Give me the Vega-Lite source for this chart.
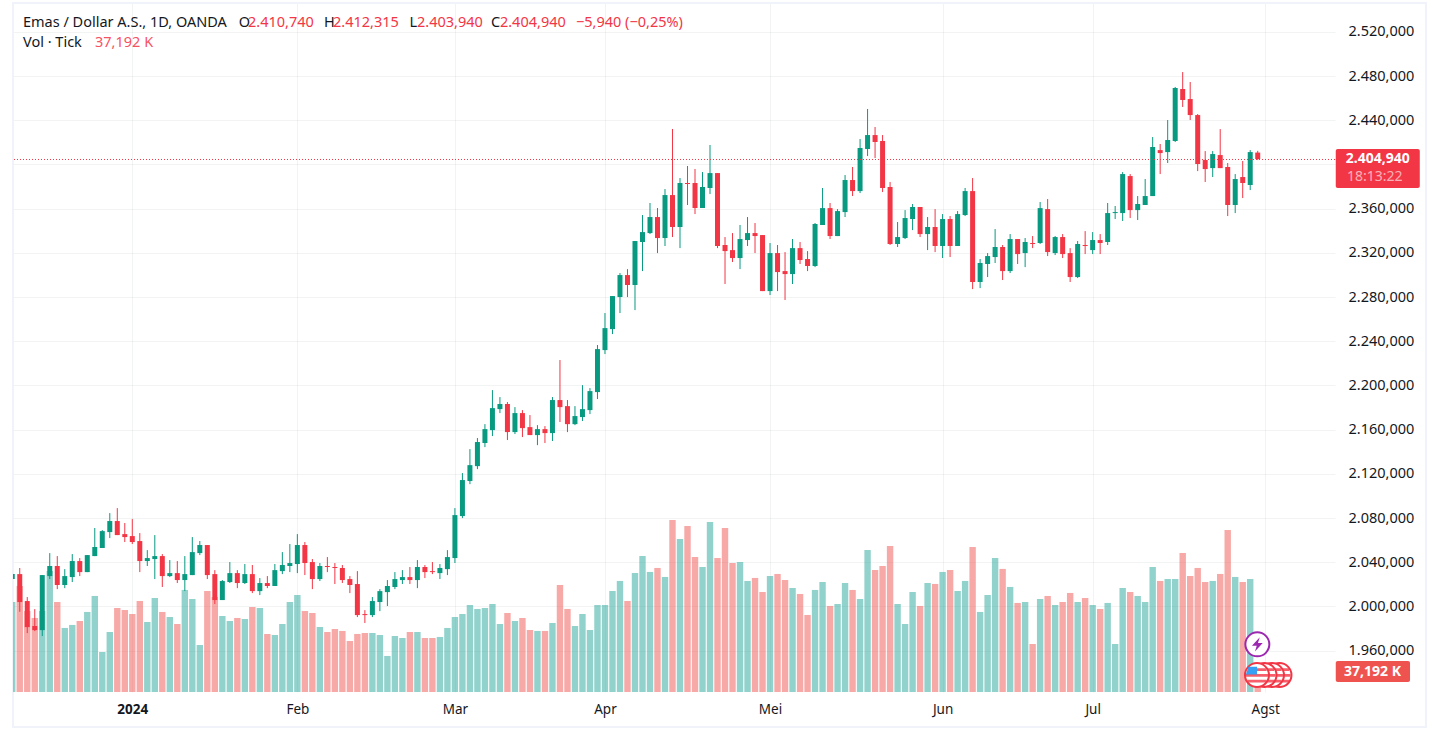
{
"$schema":"https://vega.github.io/schema/vega-lite/v6.json",
"width":1322,"height":689,"autosize":{"type":"none"},"padding":{"left":13,"top":3,"right":99,"bottom":41},"background":"#ffffff",
"config":{"view":{"stroke":null},"font":"Noto Sans"},
"datasets":{"bars":[
{"i":0,"open":2024.8,"high":2029.3,"low":2024.8,"close":2029.3,"volume":164.9},
{"i":1,"open":2029.3,"high":2034.8,"low":1995.2,"close":2004.0,"volume":194.2},
{"i":2,"open":2004.9,"high":2008.5,"low":1975.9,"close":1981.3,"volume":148.4},
{"i":3,"open":1982.3,"high":1997.6,"low":1977.7,"close":1978.6,"volume":135.6},
{"i":4,"open":1978.6,"high":2028.4,"low":1973.2,"close":2028.4,"volume":148.4},
{"i":5,"open":2027.5,"high":2048.3,"low":2024.8,"close":2036.6,"volume":221.7},
{"i":6,"open":2036.6,"high":2045.6,"low":2015.7,"close":2019.4,"volume":164.9},
{"i":7,"open":2019.4,"high":2033.8,"low":2016.6,"close":2027.5,"volume":117.3},
{"i":8,"open":2026.6,"high":2047.4,"low":2022.1,"close":2041.1,"volume":122.8},
{"i":9,"open":2041.1,"high":2043.8,"low":2027.5,"close":2031.1,"volume":130.1},
{"i":10,"open":2031.1,"high":2046.5,"low":2031.1,"close":2046.5,"volume":146.6},
{"i":11,"open":2045.6,"high":2071.0,"low":2045.6,"close":2053.8,"volume":175.9},
{"i":12,"open":2052.9,"high":2069.1,"low":2052.9,"close":2068.2,"volume":73.3},
{"i":13,"open":2067.3,"high":2084.5,"low":2061.9,"close":2077.3,"volume":109.9},
{"i":14,"open":2077.3,"high":2089.0,"low":2064.6,"close":2064.6,"volume":153.9},
{"i":15,"open":2065.5,"high":2075.5,"low":2058.3,"close":2062.8,"volume":150.2},
{"i":16,"open":2063.7,"high":2079.1,"low":2056.5,"close":2058.3,"volume":142.9},
{"i":17,"open":2059.2,"high":2066.4,"low":2031.1,"close":2041.1,"volume":166.7},
{"i":18,"open":2041.1,"high":2051.0,"low":2036.6,"close":2043.8,"volume":128.2},
{"i":19,"open":2042.9,"high":2064.6,"low":2024.8,"close":2045.6,"volume":172.2},
{"i":20,"open":2045.6,"high":2047.4,"low":2017.6,"close":2027.5,"volume":146.6},
{"i":21,"open":2027.5,"high":2042.0,"low":2026.6,"close":2030.2,"volume":137.4},
{"i":22,"open":2030.2,"high":2041.1,"low":2021.2,"close":2023.9,"volume":124.6},
{"i":23,"open":2023.9,"high":2045.6,"low":2013.9,"close":2029.3,"volume":186.9},
{"i":24,"open":2028.4,"high":2062.8,"low":2028.4,"close":2049.2,"volume":170.4},
{"i":25,"open":2048.3,"high":2059.2,"low":2046.5,"close":2055.6,"volume":86.1},
{"i":26,"open":2055.6,"high":2055.6,"low":2024.8,"close":2028.4,"volume":185.0},
{"i":27,"open":2029.3,"high":2032.9,"low":2002.2,"close":2005.8,"volume":174.0},
{"i":28,"open":2005.8,"high":2023.9,"low":2005.8,"close":2023.0,"volume":139.2},
{"i":29,"open":2022.1,"high":2040.2,"low":2021.2,"close":2030.2,"volume":130.1},
{"i":30,"open":2030.2,"high":2032.9,"low":2016.6,"close":2021.2,"volume":135.6},
{"i":31,"open":2021.2,"high":2038.4,"low":2020.3,"close":2029.3,"volume":133.7},
{"i":32,"open":2029.3,"high":2037.5,"low":2012.1,"close":2013.9,"volume":155.7},
{"i":33,"open":2013.9,"high":2025.7,"low":2010.3,"close":2021.2,"volume":153.9},
{"i":34,"open":2021.2,"high":2027.5,"low":2016.6,"close":2018.5,"volume":106.3},
{"i":35,"open":2018.5,"high":2038.4,"low":2018.5,"close":2032.9,"volume":104.4},
{"i":36,"open":2032.0,"high":2049.2,"low":2029.3,"close":2037.5,"volume":124.6},
{"i":37,"open":2036.6,"high":2056.5,"low":2031.1,"close":2039.3,"volume":164.9},
{"i":38,"open":2038.4,"high":2065.5,"low":2030.2,"close":2055.6,"volume":177.7},
{"i":39,"open":2055.6,"high":2058.3,"low":2028.4,"close":2039.3,"volume":148.4},
{"i":40,"open":2040.2,"high":2042.9,"low":2015.7,"close":2024.8,"volume":144.7},
{"i":41,"open":2024.8,"high":2039.3,"low":2023.0,"close":2036.6,"volume":119.1},
{"i":42,"open":2036.6,"high":2044.7,"low":2031.1,"close":2035.7,"volume":109.9},
{"i":43,"open":2035.7,"high":2039.3,"low":2020.3,"close":2034.8,"volume":115.4},
{"i":44,"open":2034.8,"high":2037.5,"low":2021.2,"close":2023.9,"volume":111.8},
{"i":45,"open":2024.8,"high":2027.5,"low":2012.1,"close":2019.4,"volume":93.4},
{"i":46,"open":2020.3,"high":2032.0,"low":1990.4,"close":1992.2,"volume":106.3},
{"i":47,"open":1993.1,"high":1996.7,"low":1985.0,"close":1992.2,"volume":108.1},
{"i":48,"open":1992.2,"high":2008.5,"low":1990.4,"close":2004.9,"volume":108.1},
{"i":49,"open":2004.0,"high":2015.7,"low":1995.8,"close":2013.9,"volume":104.4},
{"i":50,"open":2013.0,"high":2023.9,"low":2000.4,"close":2018.5,"volume":66.0},
{"i":51,"open":2017.6,"high":2031.1,"low":2015.7,"close":2024.8,"volume":102.6},
{"i":52,"open":2023.9,"high":2032.9,"low":2020.3,"close":2026.6,"volume":98.9},
{"i":53,"open":2026.6,"high":2035.7,"low":2020.3,"close":2023.9,"volume":109.9},
{"i":54,"open":2023.9,"high":2042.0,"low":2016.6,"close":2035.7,"volume":109.9},
{"i":55,"open":2035.7,"high":2037.5,"low":2025.7,"close":2031.1,"volume":98.9},
{"i":56,"open":2032.0,"high":2040.2,"low":2029.3,"close":2031.1,"volume":98.9},
{"i":57,"open":2030.2,"high":2038.4,"low":2024.8,"close":2034.8,"volume":100.8},
{"i":58,"open":2033.8,"high":2051.0,"low":2028.4,"close":2044.7,"volume":117.3},
{"i":59,"open":2043.8,"high":2089.0,"low":2039.3,"close":2082.7,"volume":137.4},
{"i":60,"open":2081.8,"high":2120.7,"low":2080.0,"close":2114.4,"volume":142.9},
{"i":61,"open":2113.5,"high":2142.4,"low":2110.7,"close":2127.9,"volume":159.4},
{"i":62,"open":2127.0,"high":2152.4,"low":2124.3,"close":2148.8,"volume":152.1},
{"i":63,"open":2147.9,"high":2165.0,"low":2144.2,"close":2160.5,"volume":153.9},
{"i":64,"open":2159.6,"high":2195.8,"low":2154.2,"close":2179.5,"volume":161.2},
{"i":65,"open":2178.6,"high":2189.5,"low":2175.0,"close":2183.2,"volume":124.6},
{"i":66,"open":2183.2,"high":2185.0,"low":2150.6,"close":2157.8,"volume":144.7},
{"i":67,"open":2157.8,"high":2180.4,"low":2156.0,"close":2175.0,"volume":130.1},
{"i":68,"open":2175.0,"high":2177.7,"low":2153.3,"close":2161.4,"volume":135.6},
{"i":69,"open":2162.3,"high":2173.2,"low":2155.1,"close":2155.1,"volume":113.6},
{"i":70,"open":2155.1,"high":2164.1,"low":2146.0,"close":2160.5,"volume":111.8},
{"i":71,"open":2160.5,"high":2163.2,"low":2147.9,"close":2156.9,"volume":111.8},
{"i":72,"open":2156.9,"high":2189.5,"low":2149.7,"close":2186.8,"volume":126.4},
{"i":73,"open":2186.8,"high":2223.0,"low":2166.9,"close":2180.4,"volume":196.0},
{"i":74,"open":2181.3,"high":2186.8,"low":2157.8,"close":2165.0,"volume":152.1},
{"i":75,"open":2165.0,"high":2181.3,"low":2164.1,"close":2172.3,"volume":120.9},
{"i":76,"open":2171.4,"high":2200.3,"low":2167.8,"close":2178.6,"volume":142.9},
{"i":77,"open":2177.7,"high":2197.6,"low":2174.1,"close":2194.9,"volume":113.6},
{"i":78,"open":2194.0,"high":2236.6,"low":2187.7,"close":2232.9,"volume":159.4},
{"i":79,"open":2232.0,"high":2265.5,"low":2228.4,"close":2251.9,"volume":159.4},
{"i":80,"open":2251.0,"high":2280.9,"low":2246.5,"close":2280.9,"volume":185.0},
{"i":81,"open":2280.0,"high":2301.7,"low":2265.5,"close":2299.9,"volume":203.4},
{"i":82,"open":2299.9,"high":2305.3,"low":2280.0,"close":2290.9,"volume":166.7},
{"i":83,"open":2290.9,"high":2330.7,"low":2268.2,"close":2330.7,"volume":218.0},
{"i":84,"open":2329.8,"high":2354.2,"low":2303.5,"close":2338.8,"volume":249.2},
{"i":85,"open":2337.9,"high":2365.1,"low":2337.0,"close":2352.4,"volume":219.9},
{"i":86,"open":2352.4,"high":2360.6,"low":2319.8,"close":2333.4,"volume":227.2},
{"i":87,"open":2333.4,"high":2377.7,"low":2326.2,"close":2372.3,"volume":210.7},
{"i":88,"open":2372.3,"high":2432.1,"low":2334.3,"close":2343.4,"volume":315.1},
{"i":89,"open":2343.4,"high":2387.7,"low":2324.3,"close":2383.2,"volume":280.3},
{"i":90,"open":2383.2,"high":2398.6,"low":2363.3,"close":2382.3,"volume":304.1},
{"i":91,"open":2383.2,"high":2395.9,"low":2355.1,"close":2360.6,"volume":247.3},
{"i":92,"open":2360.6,"high":2393.1,"low":2360.6,"close":2379.6,"volume":229.0},
{"i":93,"open":2378.7,"high":2417.6,"low":2373.2,"close":2392.2,"volume":311.5},
{"i":94,"open":2392.2,"high":2392.2,"low":2324.3,"close":2326.2,"volume":245.5},
{"i":95,"open":2327.1,"high":2334.3,"low":2291.8,"close":2321.6,"volume":300.5},
{"i":96,"open":2322.5,"high":2337.9,"low":2311.7,"close":2315.3,"volume":236.3},
{"i":97,"open":2315.3,"high":2345.2,"low":2305.3,"close":2332.5,"volume":238.2},
{"i":98,"open":2331.6,"high":2352.4,"low":2326.2,"close":2337.9,"volume":203.4},
{"i":99,"open":2337.9,"high":2347.0,"low":2319.8,"close":2335.2,"volume":208.9},
{"i":100,"open":2336.1,"high":2336.1,"low":2285.4,"close":2285.4,"volume":183.2},
{"i":101,"open":2285.4,"high":2328.9,"low":2281.8,"close":2319.8,"volume":212.5},
{"i":102,"open":2319.8,"high":2327.1,"low":2285.4,"close":2302.6,"volume":216.2},
{"i":103,"open":2303.5,"high":2320.7,"low":2277.3,"close":2300.8,"volume":205.2},
{"i":104,"open":2300.8,"high":2332.5,"low":2291.8,"close":2324.3,"volume":190.5},
{"i":105,"open":2324.3,"high":2329.8,"low":2309.9,"close":2313.5,"volume":179.5},
{"i":106,"open":2314.4,"high":2321.6,"low":2303.5,"close":2308.1,"volume":141.1},
{"i":107,"open":2308.1,"high":2347.0,"low":2307.1,"close":2346.1,"volume":186.9},
{"i":108,"open":2345.2,"high":2378.7,"low":2345.2,"close":2360.5,"volume":201.5},
{"i":109,"open":2360.5,"high":2365.1,"low":2332.5,"close":2335.2,"volume":157.6},
{"i":110,"open":2335.2,"high":2359.6,"low":2335.2,"close":2357.8,"volume":161.2},
{"i":111,"open":2356.9,"high":2390.4,"low":2352.4,"close":2385.9,"volume":199.7},
{"i":112,"open":2385.9,"high":2397.7,"low":2371.4,"close":2375.9,"volume":186.9},
{"i":113,"open":2375.9,"high":2423.0,"low":2374.1,"close":2414.9,"volume":170.4},
{"i":114,"open":2414.0,"high":2450.2,"low":2407.6,"close":2426.6,"volume":260.2},
{"i":115,"open":2426.6,"high":2433.9,"low":2405.8,"close":2420.3,"volume":223.5},
{"i":116,"open":2421.2,"high":2426.6,"low":2375.0,"close":2378.7,"volume":230.8},
{"i":117,"open":2379.6,"high":2384.1,"low":2327.1,"close":2328.0,"volume":267.5},
{"i":118,"open":2328.0,"high":2347.9,"low":2325.3,"close":2334.3,"volume":161.2},
{"i":119,"open":2333.4,"high":2358.7,"low":2332.5,"close":2351.5,"volume":124.6},
{"i":120,"open":2350.6,"high":2364.2,"low":2340.6,"close":2361.5,"volume":183.2},
{"i":121,"open":2361.5,"high":2361.5,"low":2334.3,"close":2337.0,"volume":157.6},
{"i":122,"open":2337.0,"high":2352.4,"low":2322.5,"close":2343.4,"volume":199.7},
{"i":123,"open":2343.4,"high":2359.6,"low":2320.7,"close":2326.2,"volume":197.9},
{"i":124,"open":2326.2,"high":2355.1,"low":2315.3,"close":2350.6,"volume":219.9},
{"i":125,"open":2350.6,"high":2353.3,"low":2316.2,"close":2326.2,"volume":223.5},
{"i":126,"open":2326.2,"high":2357.8,"low":2326.2,"close":2355.1,"volume":185.0},
{"i":127,"open":2354.2,"high":2378.7,"low":2353.3,"close":2375.9,"volume":203.4},
{"i":128,"open":2375.9,"high":2387.7,"low":2287.2,"close":2293.6,"volume":265.7},
{"i":129,"open":2293.6,"high":2314.4,"low":2288.1,"close":2310.8,"volume":146.6},
{"i":130,"open":2309.9,"high":2319.8,"low":2298.1,"close":2317.1,"volume":177.7},
{"i":131,"open":2316.2,"high":2341.5,"low":2310.8,"close":2325.3,"volume":245.5},
{"i":132,"open":2325.3,"high":2327.1,"low":2295.4,"close":2303.5,"volume":225.4},
{"i":133,"open":2303.5,"high":2337.0,"low":2301.7,"close":2332.5,"volume":192.4},
{"i":134,"open":2332.5,"high":2332.5,"low":2309.9,"close":2318.9,"volume":163.1},
{"i":135,"open":2319.8,"high":2333.4,"low":2307.1,"close":2329.8,"volume":164.9},
{"i":136,"open":2328.9,"high":2335.2,"low":2324.3,"close":2328.0,"volume":87.9},
{"i":137,"open":2328.9,"high":2366.0,"low":2328.0,"close":2360.5,"volume":170.4},
{"i":138,"open":2359.6,"high":2368.7,"low":2317.1,"close":2320.7,"volume":175.9},
{"i":139,"open":2319.8,"high":2335.2,"low":2318.0,"close":2334.3,"volume":159.4},
{"i":140,"open":2334.3,"high":2337.0,"low":2315.3,"close":2318.9,"volume":164.9},
{"i":141,"open":2319.8,"high":2324.3,"low":2293.6,"close":2298.1,"volume":181.4},
{"i":142,"open":2298.1,"high":2330.7,"low":2297.2,"close":2328.0,"volume":164.9},
{"i":143,"open":2327.1,"high":2339.7,"low":2318.9,"close":2326.2,"volume":172.2},
{"i":144,"open":2322.5,"high":2338.8,"low":2318.9,"close":2331.6,"volume":159.4},
{"i":145,"open":2331.6,"high":2337.0,"low":2318.9,"close":2328.9,"volume":152.1},
{"i":146,"open":2329.8,"high":2365.1,"low":2327.1,"close":2356.0,"volume":163.1},
{"i":147,"open":2356.0,"high":2362.4,"low":2350.6,"close":2356.9,"volume":87.9},
{"i":148,"open":2356.0,"high":2393.1,"low":2348.8,"close":2391.3,"volume":190.5},
{"i":149,"open":2389.5,"high":2391.3,"low":2351.5,"close":2358.7,"volume":183.2},
{"i":150,"open":2358.7,"high":2371.4,"low":2349.7,"close":2364.2,"volume":175.9},
{"i":151,"open":2363.3,"high":2386.8,"low":2363.3,"close":2371.4,"volume":164.9},
{"i":152,"open":2371.4,"high":2424.8,"low":2371.4,"close":2415.8,"volume":229.0},
{"i":153,"open":2413.0,"high":2418.5,"low":2391.3,"close":2410.3,"volume":203.4},
{"i":154,"open":2411.2,"high":2440.2,"low":2401.3,"close":2422.1,"volume":207.0},
{"i":155,"open":2421.2,"high":2470.1,"low":2420.3,"close":2469.2,"volume":207.0},
{"i":156,"open":2468.3,"high":2483.6,"low":2452.0,"close":2458.3,"volume":254.7},
{"i":157,"open":2459.2,"high":2474.6,"low":2440.2,"close":2444.7,"volume":212.5},
{"i":158,"open":2444.7,"high":2445.6,"low":2394.0,"close":2400.4,"volume":227.2},
{"i":159,"open":2404.0,"high":2412.1,"low":2384.1,"close":2395.8,"volume":201.5},
{"i":160,"open":2396.7,"high":2412.1,"low":2388.6,"close":2409.4,"volume":203.4},
{"i":161,"open":2408.5,"high":2432.0,"low":2396.7,"close":2396.7,"volume":216.2},
{"i":162,"open":2397.7,"high":2401.3,"low":2353.3,"close":2363.3,"volume":296.8},
{"i":163,"open":2363.3,"high":2391.3,"low":2356.0,"close":2386.8,"volume":210.7},
{"i":164,"open":2388.6,"high":2403.1,"low":2369.6,"close":2383.2,"volume":201.5},
{"i":165,"open":2381.4,"high":2413.0,"low":2376.8,"close":2411.2,"volume":207.0},
{"i":166,"open":2410.74,"high":2412.315,"low":2403.94,"close":2404.94,"volume":37.192}
]},
"resolve":{"scale":{"y":"independent"}},
"layer":[
{"layer":[
 {"data":{"values":[{}]},"mark":{"type":"rect","filled":false,"stroke":"#f0f3fa","strokeWidth":2,"clip":false},"encoding":{"x":{"value":0},"x2":{"value":1413},"y":{"value":0},"y2":{"value":724}}},
 {"data":{"name":"bars"},"mark":{"type":"bar","orient":"vertical","size":6.4,"clip":true},"encoding":{
  "x":{"field":"i","type":"quantitative","scale":{"domain":[0.1,176.3],"nice":false,"zero":false,"padding":0},
   "axis":{"title":null,"orient":"bottom","values":[16,38,59,79,101,124,144,167],"labelExpr":"{'16':'2024','38':'Feb','59':'Mar','79':'Apr','101':'Mei','124':'Jun','144':'Jul','167':'Agst'}[''+datum.value]","labelOverlap":false,"labelFlush":false,"grid":true,"gridColor":"#2a2e39","gridOpacity":0.06,"gridWidth":1,"ticks":false,"domain":false,"labelColor":"#131722","labelFontSize":13.5,"labelPadding":10,"labelFontWeight":{"condition":{"test":"datum.value===16","value":"bold"},"value":"normal"}}},
  "y":{"field":"volume","type":"quantitative","stack":null,"scale":{"domain":[0,1262],"nice":false,"zero":true},"axis":null},
  "fill":{"condition":{"test":"datum.close<datum.open","value":"#ef5350"},"value":"#26a69a"},
  "fillOpacity":{"value":0.5}}}
]},
{"layer":[
 {"data":{"name":"bars"},"mark":{"type":"rule","strokeWidth":1,"clip":true},"encoding":{
  "x":{"field":"i","type":"quantitative","scale":{"domain":[0.1,176.3],"nice":false,"zero":false,"padding":0}},
  "y":{"field":"low","type":"quantitative","scale":{"domain":[1922.6,2546.1],"nice":false,"zero":false},
   "axis":{"title":null,"orient":"right","values":[1960,2000,2040,2080,2120,2160,2200,2240,2280,2320,2360,2400,2440,2480,2520],"labelExpr":"datum.value===2400?'':replace(replace(replace(format(datum.value,',.3f'),',','#'),'.',','),'#','.')","labelOverlap":false,"labelFlush":false,"grid":true,"gridColor":"#2a2e39","gridOpacity":0.06,"gridWidth":1,"ticks":false,"domain":false,"labelColor":"#131722","labelFontSize":14.5,"labelPadding":13}},
  "y2":{"field":"high"},
  "stroke":{"condition":{"test":"datum.close<datum.open","value":"#f23645"},"value":"#089981"}}},
 {"data":{"name":"bars"},"mark":{"type":"bar","orient":"vertical","size":5,"clip":true},"encoding":{
  "x":{"field":"i","type":"quantitative","scale":{"domain":[0.1,176.3],"nice":false,"zero":false,"padding":0}},
  "y":{"field":"open","type":"quantitative","scale":{"domain":[1922.6,2546.1],"nice":false,"zero":false}},
  "y2":{"field":"close"},
  "fill":{"condition":{"test":"datum.close<datum.open","value":"#f23645"},"value":"#089981"}}},
 {"data":{"values":[{}]},"mark":{"type":"rule","color":"#f23645","strokeWidth":1,"strokeDash":[1,2]},"encoding":{"y":{"datum":2404.5,"type":"quantitative","scale":{"domain":[1922.6,2546.1],"nice":false,"zero":false}}}},
 {"data":{"values":[{}]},"mark":{"type":"rect","fill":"#f23645","cornerRadius":2,"clip":false},"encoding":{"x":{"datum":176.4,"type":"quantitative","scale":{"domain":[0.1,176.3],"nice":false,"zero":false,"padding":0}},"x2":{"datum":187.6},"y":{"datum":2413.9,"type":"quantitative","scale":{"domain":[1922.6,2546.1],"nice":false,"zero":false}},"y2":{"datum":2378.6}}},
 {"data":{"values":[{}]},"mark":{"type":"text","color":"#ffffff","fontSize":14,"fontWeight":"bold","clip":false},"encoding":{"x":{"datum":182.0,"type":"quantitative","scale":{"domain":[0.1,176.3],"nice":false,"zero":false,"padding":0}},"y":{"datum":2405.2,"type":"quantitative","scale":{"domain":[1922.6,2546.1],"nice":false,"zero":false}},"text":{"value":"2.404,940"}}},
 {"data":{"values":[{}]},"mark":{"type":"text","color":"#ffffff","opacity":0.6,"fontSize":14,"clip":false},"encoding":{"x":{"datum":181.6,"type":"quantitative","scale":{"domain":[0.1,176.3],"nice":false,"zero":false,"padding":0}},"y":{"datum":2388.6,"type":"quantitative","scale":{"domain":[1922.6,2546.1],"nice":false,"zero":false}},"text":{"value":"18:13:22"}}},
 {"data":{"values":[{}]},"mark":{"type":"rect","fill":"#ef5350","cornerRadius":2,"clip":false},"encoding":{"x":{"datum":176.4,"type":"quantitative","scale":{"domain":[0.1,176.3],"nice":false,"zero":false,"padding":0}},"x2":{"datum":186.3},"y":{"datum":1950.6,"type":"quantitative","scale":{"domain":[1922.6,2546.1],"nice":false,"zero":false}},"y2":{"datum":1931.6}}},
 {"data":{"values":[{}]},"mark":{"type":"text","color":"#ffffff","fontSize":14,"fontWeight":"bold","clip":false},"encoding":{"x":{"datum":181.3,"type":"quantitative","scale":{"domain":[0.1,176.3],"nice":false,"zero":false,"padding":0}},"y":{"datum":1941,"type":"quantitative","scale":{"domain":[1922.6,2546.1],"nice":false,"zero":false}},"text":{"value":"37,192 K"}}},
 {"data":{"values":[{}]},"mark":{"type":"point","shape":"circle","filled":true,"fill":"#ffffff","stroke":"#f23645","strokeWidth":2,"size":576,"opacity":1},"encoding":{"x":{"datum":168.9,"type":"quantitative","scale":{"domain":[0.1,176.3],"nice":false,"zero":false,"padding":0}},"y":{"datum":1937.9,"type":"quantitative","scale":{"domain":[1922.6,2546.1],"nice":false,"zero":false}}}},
 {"data":{"values":[{}]},"mark":{"type":"point","shape":"M0 -0.58H0.8V-0.34H0ZM-0.92 -0.1H0.92V0.14H-0.92ZM-0.8 0.38H0.8V0.62H-0.8Z","filled":true,"fill":"#f23645","strokeWidth":0,"size":576,"opacity":0.8},"encoding":{"x":{"datum":168.9,"type":"quantitative","scale":{"domain":[0.1,176.3],"nice":false,"zero":false,"padding":0}},"y":{"datum":1937.9,"type":"quantitative","scale":{"domain":[1922.6,2546.1],"nice":false,"zero":false}}}},
 {"data":{"values":[{}]},"mark":{"type":"point","shape":"circle","filled":true,"fill":"#ffffff","stroke":"#f23645","strokeWidth":2,"size":576,"opacity":1},"encoding":{"x":{"datum":167.9,"type":"quantitative","scale":{"domain":[0.1,176.3],"nice":false,"zero":false,"padding":0}},"y":{"datum":1937.9,"type":"quantitative","scale":{"domain":[1922.6,2546.1],"nice":false,"zero":false}}}},
 {"data":{"values":[{}]},"mark":{"type":"point","shape":"M0 -0.58H0.8V-0.34H0ZM-0.92 -0.1H0.92V0.14H-0.92ZM-0.8 0.38H0.8V0.62H-0.8Z","filled":true,"fill":"#f23645","strokeWidth":0,"size":576,"opacity":0.8},"encoding":{"x":{"datum":167.9,"type":"quantitative","scale":{"domain":[0.1,176.3],"nice":false,"zero":false,"padding":0}},"y":{"datum":1937.9,"type":"quantitative","scale":{"domain":[1922.6,2546.1],"nice":false,"zero":false}}}},
 {"data":{"values":[{}]},"mark":{"type":"point","shape":"circle","filled":true,"fill":"#ffffff","stroke":"#f23645","strokeWidth":2,"size":576,"opacity":1},"encoding":{"x":{"datum":166.9,"type":"quantitative","scale":{"domain":[0.1,176.3],"nice":false,"zero":false,"padding":0}},"y":{"datum":1937.9,"type":"quantitative","scale":{"domain":[1922.6,2546.1],"nice":false,"zero":false}}}},
 {"data":{"values":[{}]},"mark":{"type":"point","shape":"M0 -0.58H0.8V-0.34H0ZM-0.92 -0.1H0.92V0.14H-0.92ZM-0.8 0.38H0.8V0.62H-0.8Z","filled":true,"fill":"#f23645","strokeWidth":0,"size":576,"opacity":0.8},"encoding":{"x":{"datum":166.9,"type":"quantitative","scale":{"domain":[0.1,176.3],"nice":false,"zero":false,"padding":0}},"y":{"datum":1937.9,"type":"quantitative","scale":{"domain":[1922.6,2546.1],"nice":false,"zero":false}}}},
 {"data":{"values":[{}]},"mark":{"type":"point","shape":"circle","filled":true,"fill":"#ffffff","stroke":"#f23645","strokeWidth":2,"size":576,"opacity":1},"encoding":{"x":{"datum":165.9,"type":"quantitative","scale":{"domain":[0.1,176.3],"nice":false,"zero":false,"padding":0}},"y":{"datum":1937.9,"type":"quantitative","scale":{"domain":[1922.6,2546.1],"nice":false,"zero":false}}}},
 {"data":{"values":[{}]},"mark":{"type":"point","shape":"M0 -0.58H0.8V-0.34H0ZM-0.92 -0.1H0.92V0.14H-0.92ZM-0.8 0.38H0.8V0.62H-0.8Z","filled":true,"fill":"#f23645","strokeWidth":0,"size":576,"opacity":0.8},"encoding":{"x":{"datum":165.9,"type":"quantitative","scale":{"domain":[0.1,176.3],"nice":false,"zero":false,"padding":0}},"y":{"datum":1937.9,"type":"quantitative","scale":{"domain":[1922.6,2546.1],"nice":false,"zero":false}}}},
 {"data":{"values":[{}]},"mark":{"type":"point","shape":"M-0.72 -0.7H0V-0.05H-0.92Z","filled":true,"fill":"#2196f3","strokeWidth":0,"size":576,"opacity":0.9},"encoding":{"x":{"datum":165.9,"type":"quantitative","scale":{"domain":[0.1,176.3],"nice":false,"zero":false,"padding":0}},"y":{"datum":1937.9,"type":"quantitative","scale":{"domain":[1922.6,2546.1],"nice":false,"zero":false}}}},
 {"data":{"values":[{}]},"mark":{"type":"point","shape":"circle","filled":true,"fill":"#ffffff","stroke":"#9c27b0","strokeWidth":2,"size":576,"opacity":1},"encoding":{"x":{"datum":165.95,"type":"quantitative","scale":{"domain":[0.1,176.3],"nice":false,"zero":false,"padding":0}},"y":{"datum":1965.7,"type":"quantitative","scale":{"domain":[1922.6,2546.1],"nice":false,"zero":false}}}},
 {"data":{"values":[{}]},"mark":{"type":"point","shape":"M0.2 -0.6L-0.45 0.12H-0.05L-0.2 0.6L0.45 -0.12H0.05Z","filled":true,"fill":"#9c27b0","strokeWidth":0,"size":576,"opacity":1},"encoding":{"x":{"datum":165.95,"type":"quantitative","scale":{"domain":[0.1,176.3],"nice":false,"zero":false,"padding":0}},"y":{"datum":1965.7,"type":"quantitative","scale":{"domain":[1922.6,2546.1],"nice":false,"zero":false}}}},
 {"data":{"values":[{}]},"mark":{"type":"text","align":"left","color":"#131722","fontSize":14.5,"clip":false},"encoding":{"x":{"datum":1.43,"type":"quantitative","scale":{"domain":[0.1,176.3],"nice":false,"zero":false,"padding":0}},"y":{"datum":2528.3,"type":"quantitative","scale":{"domain":[1922.6,2546.1],"nice":false,"zero":false}},"text":{"value":"Emas / Dollar A.S., 1D, OANDA"}}},
 {"data":{"values":[{}]},"mark":{"type":"text","align":"left","color":"#131722","fontSize":14.5,"clip":false},"encoding":{"x":{"datum":30.18,"type":"quantitative","scale":{"domain":[0.1,176.3],"nice":false,"zero":false,"padding":0}},"y":{"datum":2528.3,"type":"quantitative","scale":{"domain":[1922.6,2546.1],"nice":false,"zero":false}},"text":{"value":"O"}}},
 {"data":{"values":[{}]},"mark":{"type":"text","align":"left","color":"#f23645","fontSize":14.5,"clip":false},"encoding":{"x":{"datum":31.42,"type":"quantitative","scale":{"domain":[0.1,176.3],"nice":false,"zero":false,"padding":0}},"y":{"datum":2528.3,"type":"quantitative","scale":{"domain":[1922.6,2546.1],"nice":false,"zero":false}},"text":{"value":"2.410,740"}}},
 {"data":{"values":[{}]},"mark":{"type":"text","align":"left","color":"#131722","fontSize":14.5,"clip":false},"encoding":{"x":{"datum":41.55,"type":"quantitative","scale":{"domain":[0.1,176.3],"nice":false,"zero":false,"padding":0}},"y":{"datum":2528.3,"type":"quantitative","scale":{"domain":[1922.6,2546.1],"nice":false,"zero":false}},"text":{"value":"H"}}},
 {"data":{"values":[{}]},"mark":{"type":"text","align":"left","color":"#f23645","fontSize":14.5,"clip":false},"encoding":{"x":{"datum":42.75,"type":"quantitative","scale":{"domain":[0.1,176.3],"nice":false,"zero":false,"padding":0}},"y":{"datum":2528.3,"type":"quantitative","scale":{"domain":[1922.6,2546.1],"nice":false,"zero":false}},"text":{"value":"2.412,315"}}},
 {"data":{"values":[{}]},"mark":{"type":"text","align":"left","color":"#131722","fontSize":14.5,"clip":false},"encoding":{"x":{"datum":52.95,"type":"quantitative","scale":{"domain":[0.1,176.3],"nice":false,"zero":false,"padding":0}},"y":{"datum":2528.3,"type":"quantitative","scale":{"domain":[1922.6,2546.1],"nice":false,"zero":false}},"text":{"value":"L"}}},
 {"data":{"values":[{}]},"mark":{"type":"text","align":"left","color":"#f23645","fontSize":14.5,"clip":false},"encoding":{"x":{"datum":53.95,"type":"quantitative","scale":{"domain":[0.1,176.3],"nice":false,"zero":false,"padding":0}},"y":{"datum":2528.3,"type":"quantitative","scale":{"domain":[1922.6,2546.1],"nice":false,"zero":false}},"text":{"value":"2.403,940"}}},
 {"data":{"values":[{}]},"mark":{"type":"text","align":"left","color":"#131722","fontSize":14.5,"clip":false},"encoding":{"x":{"datum":63.8,"type":"quantitative","scale":{"domain":[0.1,176.3],"nice":false,"zero":false,"padding":0}},"y":{"datum":2528.3,"type":"quantitative","scale":{"domain":[1922.6,2546.1],"nice":false,"zero":false}},"text":{"value":"C"}}},
 {"data":{"values":[{}]},"mark":{"type":"text","align":"left","color":"#f23645","fontSize":14.5,"clip":false},"encoding":{"x":{"datum":65.0,"type":"quantitative","scale":{"domain":[0.1,176.3],"nice":false,"zero":false,"padding":0}},"y":{"datum":2528.3,"type":"quantitative","scale":{"domain":[1922.6,2546.1],"nice":false,"zero":false}},"text":{"value":"2.404,940"}}},
 {"data":{"values":[{}]},"mark":{"type":"text","align":"left","color":"#f23645","fontSize":14.5,"clip":false},"encoding":{"x":{"datum":75.13,"type":"quantitative","scale":{"domain":[0.1,176.3],"nice":false,"zero":false,"padding":0}},"y":{"datum":2528.3,"type":"quantitative","scale":{"domain":[1922.6,2546.1],"nice":false,"zero":false}},"text":{"value":"−5,940 (−0,25%)"}}},
 {"data":{"values":[{}]},"mark":{"type":"text","align":"left","color":"#131722","fontSize":14.5,"clip":false},"encoding":{"x":{"datum":1.43,"type":"quantitative","scale":{"domain":[0.1,176.3],"nice":false,"zero":false,"padding":0}},"y":{"datum":2509.9,"type":"quantitative","scale":{"domain":[1922.6,2546.1],"nice":false,"zero":false}},"text":{"value":"Vol · Tick"}}},
 {"data":{"values":[{}]},"mark":{"type":"text","align":"left","color":"#f7525f","fontSize":14.5,"clip":false},"encoding":{"x":{"datum":11.03,"type":"quantitative","scale":{"domain":[0.1,176.3],"nice":false,"zero":false,"padding":0}},"y":{"datum":2509.9,"type":"quantitative","scale":{"domain":[1922.6,2546.1],"nice":false,"zero":false}},"text":{"value":"37,192 K"}}}
]}
]
}
